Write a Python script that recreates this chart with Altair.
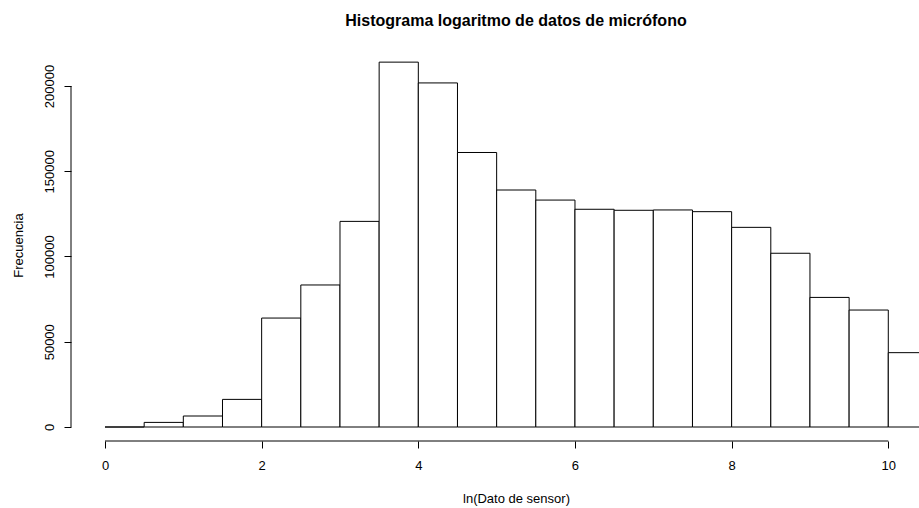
import altair as alt
import pandas as pd

# Histogram bins (ln of sensor value), width 0.5
bin_start = [0.0, 0.5, 1.0, 1.5, 2.0, 2.5, 3.0, 3.5, 4.0, 4.5, 5.0,
             5.5, 6.0, 6.5, 7.0, 7.5, 8.0, 8.5, 9.0, 9.5, 10.0]
bin_end = [0.5, 1.0, 1.5, 2.0, 2.5, 3.0, 3.5, 4.0, 4.5, 5.0, 5.5,
           6.0, 6.5, 7.0, 7.5, 8.0, 8.5, 9.0, 9.5, 10.0, 10.5]
counts = [0, 2700, 6450, 16200, 63900, 83300, 120600, 214000, 201800, 161000, 139000,
          133100, 127700, 127100, 127300, 126300, 117100, 101900, 76000, 68600, 43600]

x_ticks = [0, 2, 4, 6, 8, 10]
y_ticks = [0, 50000, 100000, 150000, 200000]

x_domain = [-0.434, 10.392]
y_domain = [-8211, 221114]

FONT = "Liberation Sans"

df = pd.DataFrame({"start": bin_start, "end": bin_end, "count": counts,
                   "zero": [0] * len(counts)})

xscale = alt.Scale(domain=x_domain, nice=False, zero=False)
yscale = alt.Scale(domain=y_domain, nice=False, zero=False)

bars = alt.Chart(df).mark_rect(
    fill="white", stroke="black", strokeWidth=1, clip=True
).encode(
    x=alt.X("start:Q", scale=xscale, axis=alt.Axis(
        values=x_ticks, domain=False, grid=False, tickSize=7, tickColor="black",
        labelFontSize=13, labelFont=FONT, labelColor="black", labelPadding=11,
        labelFlush=False, format="d",
        title="ln(Dato de sensor)", titleFont=FONT, titleFontSize=13,
        titleFontWeight="normal", titleColor="black", titleX=445, titleY=61,
        titleAlign="center", titleBaseline="alphabetic")),
    x2="end:Q",
    y=alt.Y("count:Q", scale=yscale, axis=alt.Axis(
        values=y_ticks, domain=False, grid=False, tickSize=7, tickColor="black",
        labelFontSize=13, labelFont=FONT, labelColor="black", labelPadding=8,
        labelAngle=270, labelAlign="center", labelBaseline="bottom",
        labelFlush=False, format="d",
        title="Frecuencia", titleFont=FONT, titleFontSize=13,
        titleFontWeight="normal", titleColor="black", titleX=-49, titleY=195,
        titleAngle=270, titleAlign="center", titleBaseline="alphabetic")),
    y2="zero:Q",
)

xaxis_line = alt.Chart(pd.DataFrame({"a": [min(x_ticks)], "b": [max(x_ticks)],
                                     "y": [y_domain[0]]})).mark_rule(
    color="black", strokeWidth=1
).encode(x=alt.X("a:Q", scale=xscale), x2="b:Q", y=alt.Y("y:Q", scale=yscale))

yaxis_line = alt.Chart(pd.DataFrame({"x": [x_domain[0]], "a": [min(y_ticks)],
                                     "b": [max(y_ticks)]})).mark_rule(
    color="black", strokeWidth=1
).encode(x=alt.X("x:Q", scale=xscale), y=alt.Y("a:Q", scale=yscale), y2="b:Q")

chart = alt.layer(bars, xaxis_line, yaxis_line).properties(
    width=848, height=391,
    title=alt.TitleParams("Histograma logaritmo de datos de micrófono",
                          font=FONT, fontSize=16, fontWeight="bold", color="black",
                          anchor="middle", dx=21, offset=8, baseline="alphabetic"),
    autosize=alt.AutoSizeParams(type="none"),
    padding={"left": 71, "top": 50, "right": 0, "bottom": 67},
    background="white",
).configure_view(stroke=None)

chart.save("out.html", embed_options={"renderer": "svg", "actions": False})
